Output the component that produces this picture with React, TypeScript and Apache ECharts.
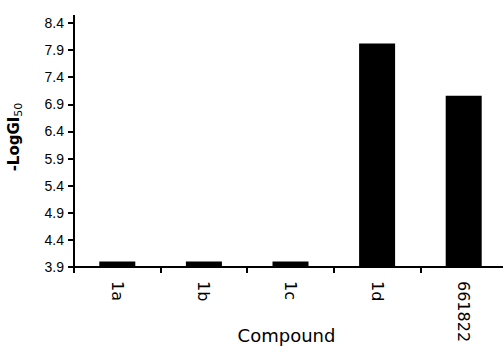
import React, { useEffect, useRef } from "react";
import * as echarts from "echarts";

const categories = ["1a", "1b", "1c", "1d", "661822"];
const values = [4.0, 4.0, 4.0, 8.02, 7.06];
const axisMin = 3.9;
const axisMax = 8.4;
const tickStep = 0.5;

export default function App() {
  const ref = useRef<HTMLDivElement>(null);
  useEffect(() => {
    if (!ref.current) return;
    const chart = echarts.init(ref.current, null, { renderer: "svg" });
    const left = 74;
    const top = 23;
    chart.setOption({
      animation: false,
      backgroundColor: "#ffffff",
      grid: { left, top, width: 433, height: 244, containLabel: false, outerBoundsMode: "none" },
      xAxis: {
        type: "category",
        data: categories,
        name: "Compound",
        nameLocation: "middle",
        nameGap: 59,
        nameMoveOverlap: false,
        nameTextStyle: { fontFamily: "DejaVu Sans", fontSize: 18, color: "#000", padding: [0, 8, 0, 0] },
        axisLine: { lineStyle: { color: "#000", width: 2 } },
        axisTick: { show: true, length: 6, lineStyle: { color: "#000", width: 2 }, alignWithLabel: false },
        axisLabel: {
          rotate: -90,
          margin: 14,
          fontFamily: "DejaVu Sans",
          fontSize: 16,
          color: "#000",
          interval: 0,
        },
      },
      yAxis: {
        type: "value",
        min: 0,
        max: axisMax - axisMin,
        interval: tickStep,
        name: "{b|-LogGI}{s|50}",
        nameLocation: "middle",
        nameGap: 50,
        nameMoveOverlap: false,
        nameTextStyle: {
          padding: [0, 0, 0, 16],
          rich: {
            b: { fontFamily: "DejaVu Sans", fontWeight: "bold", fontSize: 15, color: "#000", lineHeight: 20 },
            s: { fontFamily: "DejaVu Sans", fontSize: 11, color: "#000", verticalAlign: "bottom", lineHeight: 20, padding: [6, 0, 0, 0] },
          },
        },
        splitLine: { show: false },
        axisLine: { show: true, lineStyle: { color: "#000", width: 2 } },
        axisTick: { show: true, length: 6, lineStyle: { color: "#000", width: 2 } },
        axisLabel: {
          margin: 10,
          fontFamily: "Liberation Sans",
          fontSize: 14,
          color: "#000",
          formatter: (v: number) => (v + axisMin).toFixed(1),
        },
      },
      graphic: [
        {
          type: "line",
          shape: { x1: left, y1: top, x2: left, y2: top - 8 },
          style: { stroke: "#000", lineWidth: 2 },
        },
      ],
      series: [
        {
          type: "bar",
          data: values.map((v) => +(v - axisMin).toFixed(3)),
          barWidth: 36,
          itemStyle: { color: "#000" },
        },
      ],
    });
    return () => chart.dispose();
  }, []);
  return <div ref={ref} style={{ position: "fixed", left: 0, top: 0, width: 503, height: 346 }} />;
}
